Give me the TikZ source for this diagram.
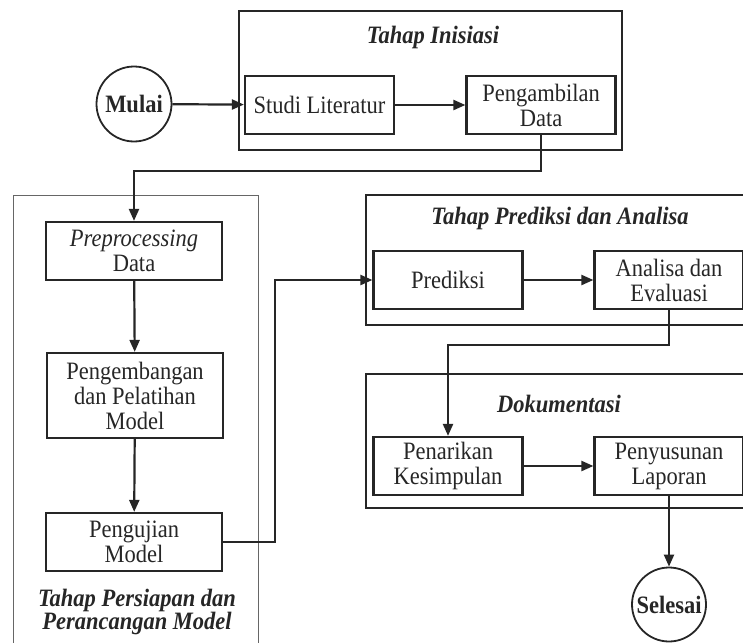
\documentclass[tikz,border=0pt]{standalone}
\usepackage{fontspec}
\setmainfont{Liberation Serif}[FakeStretch=0.9]
\usetikzlibrary{arrows.meta}
\begin{document}
\begin{tikzpicture}[x=1pt,y=-1pt,line width=2.2pt,
  every node/.style={font=\fontsize{25}{25}\selectfont,inner sep=1pt,text=black!85},
  box/.style={draw=black!85,minimum width=149pt,minimum height=58pt,align=center},
  circ/.style={draw=black!85,circle,minimum size=75pt,line width=1.8pt,font=\fontsize{25}{25}\selectfont\bfseries},
  lbl/.style={font=\fontsize{25}{22.5}\selectfont\bfseries\itshape,align=center},
  arr/.style={draw=black!85,-{Triangle[length=12pt,width=10pt]}}]
\clip (0,0) rectangle (743,642);
% frames
\draw[black!85] (239,11) rectangle (622,150);
\draw[black!60,line width=1pt] (13,195) rectangle (258,670);
\draw[black!85] (366,195) rectangle (770,325);
\draw[black!85] (366,374) rectangle (770,508);
\node[lbl] (tInisiasi) at (433,37) {Tahap Inisiasi};
\node[lbl] (tPrediksi) at (560,218) {Tahap Prediksi dan Analisa};
\node[lbl] (tDok) at (559,404) {Dokumentasi};
\node[lbl] (tPersiapan) at (137,612) {Tahap Persiapan dan\\Perancangan Model};
% start / end
\node[circ] (mulai) at (134,104) {Mulai};
\node[circ,minimum size=74pt] (selesai) at (669,604.5) {Selesai};
% steps
\node[box] (studi) at (319.5,105) {Studi Literatur};
\node[box] (ambil) at (541,105) {Pengambilan\\Data};
\node[box,minimum width=176pt] (prep) at (134,251) {\textit{Preprocessing}\\Data};
\node[box,minimum width=176pt,minimum height=85pt] (kembang) at (135,395.5) {Pengembangan\\dan Pelatihan\\Model};
\node[box,minimum width=176pt] (uji) at (134,542) {Pengujian\\Model};
\node[box] (pred) at (448,280) {Prediksi};
\node[box] (anal) at (669,280) {Analisa dan\\Evaluasi};
\node[box] (tarik) at (448,466) {Penarikan\\Kesimpulan};
\node[box] (susun) at (669,466) {Penyusunan\\Laporan};
% arrows
\draw[arr] (mulai) -- (studi);
\draw[arr] (studi) -- (ambil);
\draw[arr] (ambil.south) -- ++(0,36) -| (prep.north);
\draw[arr] (prep) -- (kembang);
\draw[arr] (kembang) -- (uji);
\draw[arr] (uji.east) -- ++(52,0) |- (pred.west);
\draw[arr] (pred) -- (anal);
\draw[arr] (anal.south) -- ++(0,35) -| (tarik.north);
\draw[arr] (tarik) -- (susun);
\draw[arr] (susun) -- (selesai);
\end{tikzpicture}
\end{document}
